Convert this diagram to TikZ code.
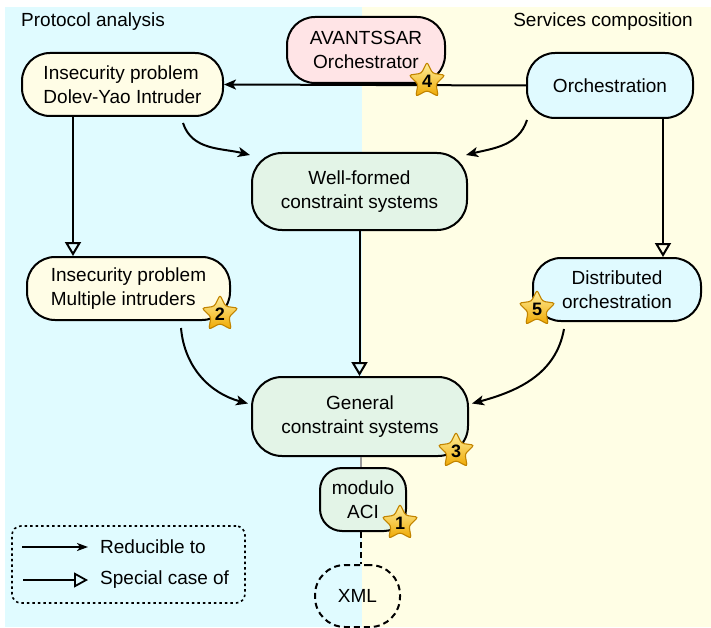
\documentclass[tikz,border=0pt]{standalone}
\usepackage{fontspec}
\setmainfont{Liberation Sans}
\usetikzlibrary{arrows.meta,shapes.geometric}

\definecolor{leftbg}{HTML}{E0FBFF}
\definecolor{rightbg}{HTML}{FFFEE5}
\definecolor{creamfill}{HTML}{FFFDE6}
\definecolor{greenfill}{HTML}{E3F4E7}
\definecolor{pinkfill}{HTML}{FFE4E6}
\definecolor{cyanfill}{HTML}{E0FAFF}
\definecolor{startop}{HTML}{FFF0A0}
\definecolor{starbot}{HTML}{EFA800}
\definecolor{starline}{HTML}{C28400}
\definecolor{linkgray}{HTML}{999999}

\begin{document}
\begin{tikzpicture}[x=1pt,y=-1pt,
  every node/.style={text=black},
  txt/.style={font=\fontsize{19}{24}\selectfont},
  box/.style={txt, draw, line width=2pt, align=center, inner sep=0pt},
  reduce/.style={line width=2pt, -{Stealth[length=12pt,width=10pt,inset=3pt]}},
  special/.style={line width=2pt, -{Triangle[open,length=14pt,width=16pt]}},
  badge/.style={star, star points=5, star point ratio=2.0, minimum size=38pt,
    inner sep=0pt, draw=starline, line width=1.1pt, rounded corners=2.5pt,
    top color=startop, bottom color=starbot,
    font=\fontsize{18}{18}\selectfont\bfseries}
]
\useasboundingbox (0,0) rectangle (711,628);

% two background panels
\fill[leftbg] (5,7) rectangle (362,627);
\fill[rightbg] (362,7) rectangle (711,627);

\node[txt, anchor=west, inner sep=0pt] (titleL) at (21,22) {Protocol analysis};
\node[txt, anchor=east, inner sep=0pt] (titleR) at (693,22) {Services composition};

% problem nodes
\node[box, fill=pinkfill, minimum width=158pt, minimum height=66pt, rounded corners=28pt]
  (avant) at (366,50) {AVANTSSAR\\Orchestrator};
\node[box, fill=creamfill, align=left, minimum width=201pt, minimum height=63pt, rounded corners=28pt]
  (dy) at (122.5,84.5) {Insecurity problem\\Dolev-Yao Intruder};
\node[box, fill=cyanfill, minimum width=166pt, minimum height=65pt, rounded corners=28pt]
  (orch) at (610,85.5) {Orchestration};
\node[box, fill=greenfill, minimum width=215pt, minimum height=77pt, rounded corners=30pt]
  (wf) at (359.5,191.5) {Well-formed\\constraint systems};
\node[box, fill=creamfill, align=left, minimum width=203pt, minimum height=63pt, rounded corners=28pt]
  (mult) at (128.5,288.5) {Insecurity problem\\Multiple intruders};
\node[box, fill=cyanfill, minimum width=168pt, minimum height=63pt, rounded corners=28pt]
  (dist) at (617,289.5) {Distributed\\orchestration};
\node[box, fill=greenfill, minimum width=216pt, minimum height=79pt, rounded corners=30pt]
  (gen) at (360,416.5) {General\\constraint systems};
\node[box, fill=greenfill, minimum width=86pt, minimum height=63pt, rounded corners=22pt]
  (aci) at (363,499.5) {modulo\\ACI};
\node[box, dashed, dash pattern=on 6pt off 4pt, minimum width=85pt, minimum height=62pt, rounded corners=30pt]
  (xml) at (357.5,596) {XML};

% reductions
\draw[reduce] (orch.west) -- (dy.east);
\draw[reduce] ([xshift=-41pt,yshift=-6pt]dy.south east) to[out=-72,in=166] ([xshift=-1pt,yshift=-3pt]wf.north west);
\draw[reduce] ([xshift=1pt,yshift=-1pt]orch.south west) to[out=-108,in=14] ([xshift=-2pt,yshift=-3pt]wf.north east);
\draw[reduce] ([xshift=-50pt,yshift=-7pt]mult.south east) to[out=-85,in=165] ([xshift=-3pt,yshift=13pt]gen.west);
\draw[reduce] ([xshift=32pt,yshift=-7pt]dist.south west) to[out=-100,in=15] ([xshift=3pt,yshift=13pt]gen.east);

% special cases
\draw[special] ([xshift=-49.5pt]dy.south) -- ([xshift=-49.5pt]dy.south |- mult.north);
\draw[special] ([xshift=53pt]orch.south) -- ([xshift=53pt]orch.south |- dist.north);
\draw[special] (wf.south) -- (wf.south |- gen.north);

% equational theory and XML links
\draw[linkgray, line width=2pt] ([xshift=1pt]gen.south) -- ([xshift=1pt]gen.south |- aci.north);
\draw[line width=2pt, dashed, dash pattern=on 6pt off 4pt] ([xshift=-2pt]aci.south) -- ([xshift=-2pt]aci.south |- xml.north);

% legend
\node[draw, line width=1.6pt, dash pattern=on 2.5pt off 3pt, rounded corners=9pt,
  minimum width=233pt, minimum height=77pt, inner sep=0pt] (legend) at (128.5,564.5) {};
\coordinate (la1) at (22,547);
\coordinate (lb1) at (88,547);
\coordinate (la2) at (23,580);
\coordinate (lb2) at (88,580);
\draw[line width=1.8pt, -{Stealth[length=11pt,width=8pt,inset=3pt]}] (la1) -- (lb1);
\draw[line width=1.8pt, -{Triangle[open,length=14pt,width=15pt]}] (la2) -- (lb2);
\node[txt, anchor=west, inner sep=0pt] (lt1) at (100,547) {Reducible to};
\node[txt, anchor=west, inner sep=0pt] (lt2) at (100,580) {Special case of};

% numbered badges
\node[badge] (s4) at (427,81) {4};
\node[badge] (s2) at (220,314) {2};
\node[badge] (s5) at (537,309) {5};
\node[badge] (s3) at (456,451) {3};
\node[badge] (s1) at (400,523) {1};
\end{tikzpicture}
\end{document}
